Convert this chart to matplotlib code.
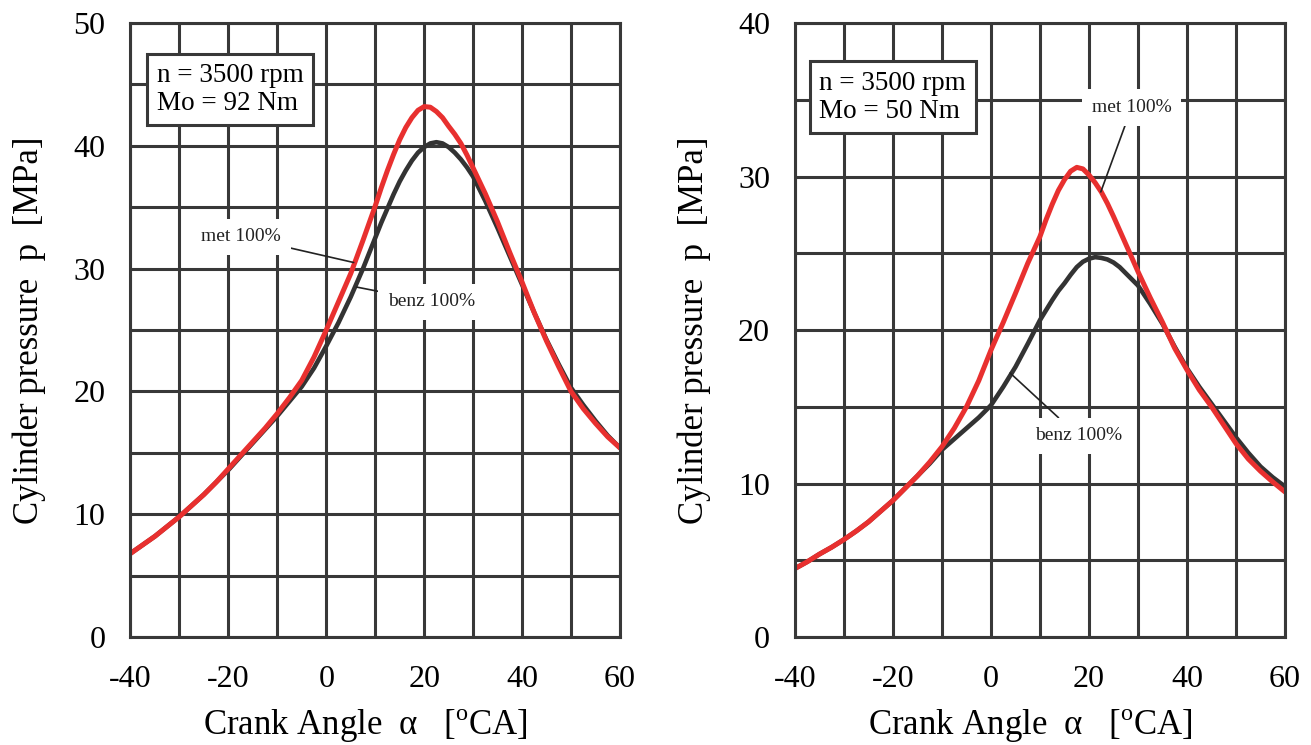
"""Cylinder pressure vs crank angle for methanol and gasoline at 3500 rpm"""
import numpy as np
import matplotlib
matplotlib.use('Agg')
import matplotlib.pyplot as plt
from matplotlib.ticker import MultipleLocator

plt.rcParams['font.family'] = ['Liberation Serif', 'DejaVu Serif']
plt.rcParams['mathtext.fontset'] = 'custom'
plt.rcParams['mathtext.rm'] = 'Liberation Serif'
plt.rcParams['axes.unicode_minus'] = False

# crank angle, deg CA (finer steps around the pressure peak)
crank_angle = [-40, -37.5, -35, -32.5, -30, -27.5, -25, -22.5, -20, -17.5,
               -15, -12.5, -10, -7.5, -5, -2.5, 0, 2.5, 5, 7.5,
               10, 11.25, 12.5, 13.75, 15, 16.25, 17.5, 18.75, 20, 21.25,
               22.5, 23.75, 25, 26.25, 27.5, 28.75, 30, 32.5, 35, 37.5,
               40, 42.5, 45, 47.5, 50, 52.5, 55, 57.5, 60]

# Mo = 92 Nm
met_92 = [6.8, 7.5, 8.2, 9.0, 9.8, 10.7, 11.6, 12.6, 13.7, 14.8,
          15.9, 17.0, 18.2, 19.5, 20.9, 22.8, 25.0, 27.3, 29.6, 32.3,
          35.1, 36.6, 38.0, 39.3, 40.5, 41.5, 42.3, 42.9, 43.2, 43.15,
          42.8, 42.3, 41.6, 40.95, 40.2, 39.25, 38.2, 36.1, 33.8, 31.3,
          28.9, 26.4, 24.1, 22.0, 20.0, 18.6, 17.4, 16.3, 15.4]
benz_92 = [6.8, 7.5, 8.2, 9.0, 9.8, 10.7, 11.6, 12.6, 13.6, 14.7,
           15.8, 16.9, 18.0, 19.2, 20.4, 21.9, 23.7, 25.6, 27.7, 30.0,
           32.5, 33.75, 34.9, 36.05, 37.1, 38.0, 38.8, 39.45, 39.9, 40.2,
           40.3, 40.2, 39.9, 39.45, 38.9, 38.25, 37.5, 35.5, 33.3, 31.0,
           28.7, 26.4, 24.2, 22.2, 20.3, 18.9, 17.6, 16.4, 15.4]

# Mo = 50 Nm
met_50 = [4.46, 4.9, 5.4, 5.85, 6.35, 6.9, 7.5, 8.2, 8.9, 9.7,
          10.5, 11.4, 12.4, 13.6, 15.0, 16.7, 18.7, 20.5, 22.4, 24.35,
          26.1, 27.2, 28.2, 29.1, 29.8, 30.35, 30.6, 30.5, 30.1, 29.6,
          29.0, 28.25, 27.4, 26.5, 25.6, 24.7, 23.8, 22.1, 20.5, 18.8,
          17.4, 16.1, 15.0, 13.8, 12.6, 11.6, 10.8, 10.1, 9.45]
benz_50 = [4.46, 4.9, 5.4, 5.85, 6.35, 6.9, 7.5, 8.2, 8.9, 9.7,
           10.5, 11.3, 12.2, 12.9, 13.6, 14.3, 15.1, 16.3, 17.6, 19.1,
           20.65, 21.3, 21.95, 22.55, 23.05, 23.6, 24.1, 24.45, 24.65, 24.75,
           24.7, 24.6, 24.4, 24.1, 23.7, 23.3, 22.9, 21.7, 20.4, 18.9,
           17.5, 16.3, 15.2, 14.1, 13.0, 12.0, 11.1, 10.4, 9.8]

GRID = '#383838'
RED = '#e8302f'
BLACK = '#333333'


def setup_axes(ax, ymax, ystep):
    ax.set_xlim(-40, 60)
    ax.set_ylim(0, ymax)
    ax.xaxis.set_major_locator(MultipleLocator(20))
    ax.xaxis.set_minor_locator(MultipleLocator(10))
    ax.yaxis.set_major_locator(MultipleLocator(10))
    ax.yaxis.set_minor_locator(MultipleLocator(ystep))
    ax.grid(True, which='both', color=GRID, lw=2.2)
    ax.set_axisbelow(True)
    ax.tick_params(which='both', length=0, labelsize=23)
    ax.tick_params(axis='x', pad=20)
    ax.tick_params(axis='y', pad=18)
    for sp in ax.spines.values():
        sp.set_color(GRID)
        sp.set_linewidth(2.2)
    ax.set_xlabel(r'Crank Angle  α   [$^{\mathrm{o}}$CA]', fontsize=25)
    ax.set_ylabel('Cylinder pressure  p  [MPa]', fontsize=25)
    ax.xaxis.set_label_coords(0.48, -0.115)
    ax.yaxis.set_label_coords(-0.172, 0.5)


def label(ax, text, xy, xytext):
    ax.annotate(text, xy=xy, xytext=xytext, fontsize=14, color='#222222',
                ha='center', va='center',
                bbox=dict(boxstyle='square,pad=0.5', fc='white', ec='none'),
                arrowprops=dict(arrowstyle='-', color='#222222', lw=1.2,
                                shrinkA=0, shrinkB=0))


def curve(ax, values, color, lw):
    ax.plot(crank_angle, values, color=color, lw=lw,
            solid_joinstyle='round', solid_capstyle='round')


fig = plt.figure(figsize=(13.11, 7.45), dpi=100)
ax1 = fig.add_axes([0.0995, 0.145, 0.3734, 0.824])
ax2 = fig.add_axes([0.6064, 0.145, 0.3738, 0.824])

# left: Mo = 92 Nm
setup_axes(ax1, 50, 5)
curve(ax1, benz_92, BLACK, 3.3)
curve(ax1, met_92, RED, 3.6)
ax1.text(0.0535, 0.935, 'n = 3500 rpm\nMo = 92 Nm', transform=ax1.transAxes,
         fontsize=19.5, ha='left', va='top', linespacing=1.15,
         bbox=dict(boxstyle='square,pad=0.35', fc='white', ec=GRID, lw=2.2))
label(ax1, 'met 100%', (5.6, 30.5), (-17.4, 32.6))
label(ax1, 'benz 100%', (6.2, 28.5), (21.5, 27.3))

# right: Mo = 50 Nm
setup_axes(ax2, 40, 5)
curve(ax2, benz_50, BLACK, 3.3)
curve(ax2, met_50, RED, 3.6)
ax2.text(0.05, 0.922, 'n = 3500 rpm\nMo = 50 Nm', transform=ax2.transAxes,
         fontsize=19.5, ha='left', va='top', linespacing=1.15,
         bbox=dict(boxstyle='square,pad=0.35', fc='white', ec=GRID, lw=2.2))
label(ax2, 'met 100%', (22.4, 29.0), (28.7, 34.5))
label(ax2, 'benz 100%', (3.9, 17.2), (17.8, 13.1))

fig.savefig('out.png', dpi=100)
